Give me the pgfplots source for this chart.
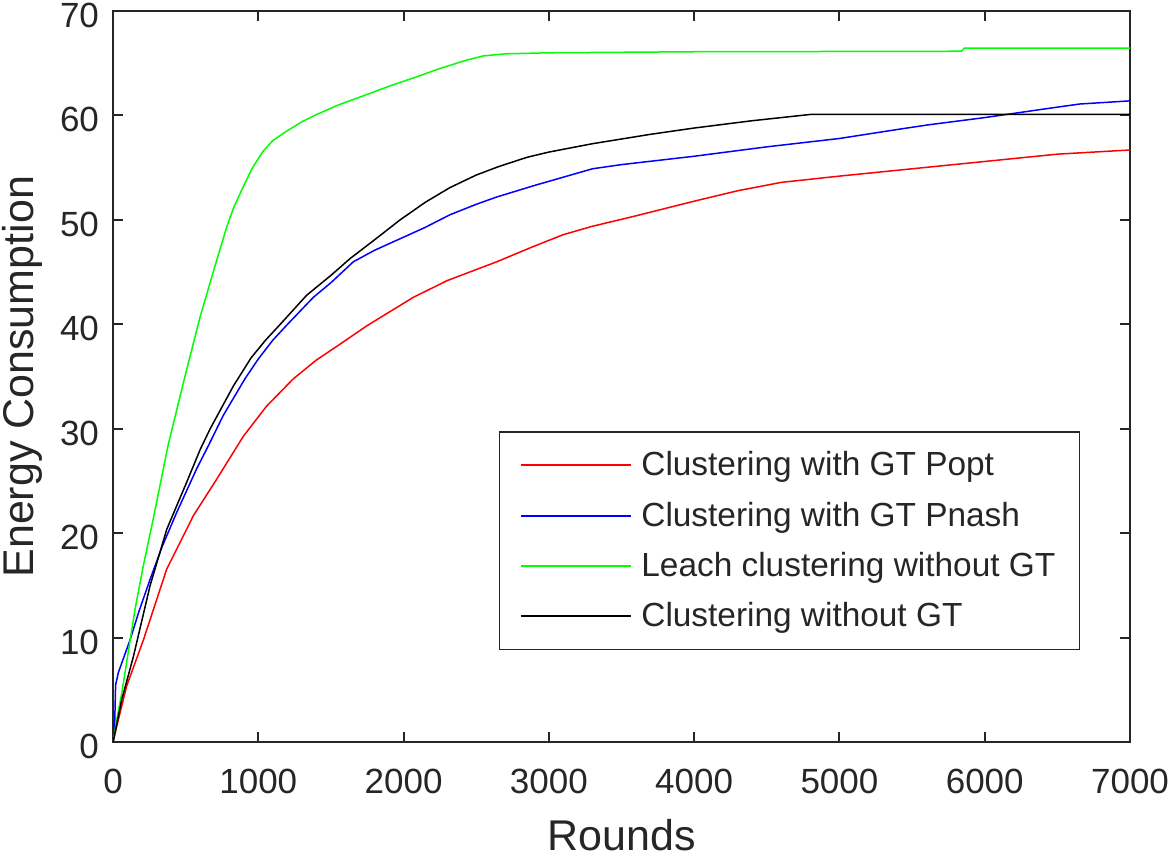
\documentclass[border=0pt]{standalone}
\usepackage{fontspec}
\setmainfont{Liberation Sans}
\usepackage{pgfplots}
\pgfplotsset{compat=1.18}
\usetikzlibrary{calc}
\definecolor{axgray}{RGB}{38,38,38}
\begin{document}
\begin{tikzpicture}
\begin{axis}[
  scale only axis,
  width=508.5pt, height=365.75pt,
  xmin=0, xmax=7000, ymin=0, ymax=70,
  xtick={0,1000,...,7000}, ytick={0,10,...,70},
  tick align=inside,
  major tick length=5pt,
  axis line style={axgray, line width=1pt},
  every tick/.style={axgray, line width=1pt},
  tick label style={font=\fontsize{17.5}{20}\selectfont, text=axgray},
  /pgf/number format/assume math mode=true,
  scaled x ticks=false,
  xticklabel style={/pgf/number format/set thousands separator={}, yshift=-9.5pt},
  yticklabel style={xshift=-3.5pt, yshift=-2pt},
  xlabel={Rounds}, ylabel={Energy Consumption},
  label style={font=\fontsize{21.5}{24}\selectfont, text=axgray},
  xlabel style={yshift=-6pt},
  ylabel style={yshift=2pt},
  legend style={at={(0.951,0.126)}, anchor=south east, draw=axgray, line width=0.8pt,
    font=\fontsize{16.7}{20}\selectfont, text=axgray, inner xsep=10pt, inner ysep=8pt,
    row sep=7.5pt, cells={anchor=west}},
  legend image code/.code={\draw[#1, line width=1pt] (0pt,0pt) -- (55pt,0pt); \path (58pt,0pt);},
  every axis plot/.append style={line width=0.75pt},
]
\addplot[color=red] coordinates {(0,0)(25,1.5)(94,5.4)(209,9.8)(370,16.6)(553,21.7)(714,25.2)(897,29.3)(1058,32.2)(1241,34.8)(1400,36.6)(1550,38.0)(1750,39.9)(2067,42.6)(2300,44.2)(2641,46.0)(2900,47.5)(3100,48.6)(3300,49.4)(3600,50.4)(4000,51.8)(4300,52.8)(4600,53.6)(5000,54.2)(5500,54.9)(6000,55.6)(6500,56.3)(7000,56.7)};
\addlegendentry{Clustering with GT Popt}
\addplot[color=blue] coordinates {(0,0)(12,2)(18,5.5)(37,6.7)(117,9.8)(180,12.6)(255,15.6)(340,18.8)(438,22.0)(576,26.2)(660,28.5)(759,31.3)(908,34.8)(1000,36.7)(1100,38.5)(1200,40.0)(1379,42.6)(1500,44.0)(1654,46.0)(1800,47.1)(1975,48.2)(2150,49.3)(2319,50.5)(2500,51.5)(2641,52.2)(2900,53.3)(3100,54.1)(3300,54.9)(3500,55.3)(4000,56.1)(4500,57.0)(5000,57.8)(5417,58.7)(5609,59.1)(6000,59.8)(6449,60.7)(6655,61.1)(7000,61.4)};
\addlegendentry{Clustering with GT Pnash}
\addplot[color=green] coordinates {(0,0)(30,2.5)(60,4.7)(100,8.2)(151,12.7)(210,17)(277,21.4)(380,28.5)(491,34.8)(599,40.7)(700,45.5)(782,49.3)(828,51.1)(897,53.2)(960,55.0)(1034,56.6)(1100,57.6)(1195,58.5)(1300,59.4)(1402,60.1)(1550,61)(1746,62.0)(1900,62.8)(2090,63.7)(2250,64.5)(2434,65.3)(2549,65.7)(2700,65.9)(3000,66.0)(4000,66.1)(5840,66.15)(5860,66.45)(7000,66.45)};
\addlegendentry{Leach clustering without GT}
\addplot[color=black] coordinates {(0,0)(60,4.1)(140,8.2)(255,15.0)(370,20.4)(507,24.9)(599,28.0)(668,30.0)(828,34.1)(950,36.8)(1050,38.5)(1150,40.0)(1333,42.8)(1500,44.7)(1631,46.3)(1800,48.1)(1975,50.0)(2150,51.7)(2319,53.1)(2500,54.3)(2652,55.1)(2850,56.0)(3000,56.5)(3300,57.3)(3700,58.2)(4000,58.8)(4400,59.5)(4800,60.1)(7000,60.1)};
\addlegendentry{Clustering without GT}
\end{axis}
\pgfresetboundingbox
\path[use as bounding box] ($(current axis.south west)+(-56.5pt,-58.25pt)$) rectangle ($(current axis.north east)+(19.5pt,5.5pt)$);
\end{tikzpicture}
\end{document}
